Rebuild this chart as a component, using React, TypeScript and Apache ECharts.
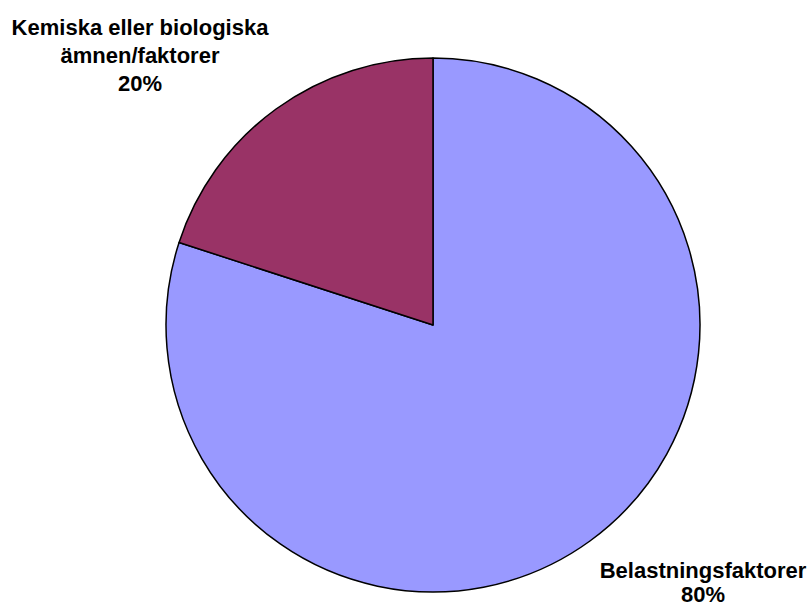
import React, { useEffect, useRef } from "react";
import * as echarts from "echarts";

const categories = ["Belastningsfaktorer", "Kemiska eller biologiska\nämnen/faktorer"];
const values = [80, 20];
const colors = ["#9999FF", "#993366"];

export default function App() {
  const ref = useRef<HTMLDivElement>(null);
  useEffect(() => {
    if (!ref.current) return;
    const chart = echarts.init(ref.current, undefined, { renderer: "svg" });
    const labelPos = [
      { x: 703, y: 582 },
      { x: 140, y: 55 },
    ];
    const lineHeights = [24, 28];
    chart.setOption({
      animation: false,
      backgroundColor: "#ffffff",
      series: [
        {
          type: "pie",
          center: [433, 325],
          radius: 267,
          startAngle: 90,
          clockwise: true,
          data: categories.map((c, i) => ({
            name: c,
            value: values[i],
            itemStyle: { color: colors[i] },
            label: { lineHeight: lineHeights[i] },
          })),
          itemStyle: { borderColor: "#000000", borderWidth: 1.5 },
          label: {
            show: true,
            position: "outside",
            formatter: (p: any) => `${p.name}\n${Math.round(p.percent)}%`,
            fontFamily: "'Liberation Sans', Arial, sans-serif",
            fontWeight: "bold",
            fontSize: 22,
            color: "#000000",
            align: "center",
            overflow: "none",
            width: 400,
          },
          labelLine: { show: false },
          labelLayout: (params: any) => ({
            x: labelPos[params.dataIndex].x,
            y: labelPos[params.dataIndex].y,
            align: "center",
            verticalAlign: "middle",
          }),
          emphasis: { disabled: true },
        },
      ],
    });
    return () => chart.dispose();
  }, []);
  return (
    <div
      ref={ref}
      style={{ position: "absolute", left: 0, top: 0, width: 810, height: 605 }}
    />
  );
}
